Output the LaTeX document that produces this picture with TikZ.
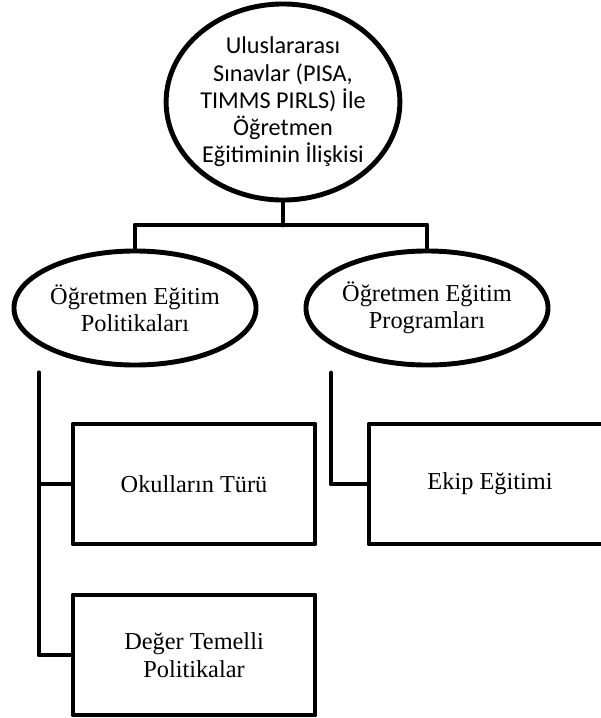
\documentclass[tikz,border=0pt]{standalone}
\usepackage{fontspec}
\setmainfont{Liberation Serif}
\newfontfamily\calfont{Carlito}
\usetikzlibrary{shapes.geometric}

\begin{document}
\begin{tikzpicture}[
  x=0.025cm, y=-0.025cm,
  line cap=round,
  line join=round,
  link/.style={line width=3.5pt},
  oval/.style={ellipse, draw, line width=3.5pt, inner sep=0pt, align=center,
    font=\fontsize{17.3}{19.5}\selectfont},
  topic/.style={oval, font=\calfont\fontsize{17.2}{19.4}\selectfont},
  leaf/.style={rectangle, draw, line width=3.5pt, inner sep=0pt, align=center,
    minimum width=6.05cm, minimum height=3.0cm,
    font=\fontsize{17.3}{19.5}\selectfont}
]

% --- Page frame ---
\useasboundingbox (0,0) rectangle (600,718);

% --- Main topic ---
\node[topic, minimum width=5.8cm, minimum height=4.9cm] (main) at (283,102)
  {Uluslararası\\Sınavlar (PISA,\\TIMMS PIRLS) İle\\Öğretmen\\Eğitiminin İlişkisi};

% --- Two branches ---
\node[oval, minimum width=6.05cm, minimum height=2.85cm] (pol) at (135,308)
  {Öğretmen Eğitim\\Politikaları};
\node[oval, minimum width=6.05cm, minimum height=2.85cm] (prog) at (427,308)
  {Öğretmen Eğitim\\Programları};

% --- Leaves ---
\node[leaf] (tur) at (194,484) {Okulların Türü};
\node[leaf] (deger) at (194,655) {Değer Temelli\\Politikalar};
\node[leaf] (ekip) at (490,484) {Ekip Eğitimi};

% --- Free ends of the side rails ---
\coordinate (split) at (283,225);
\coordinate (railL) at (39,373);
\coordinate (railR) at (331,373);

% Tree lines
\draw[link] (main.south) -- (split);
\draw[link] (pol.north) |- (split) -| (prog.north);

% Side rails
\draw[link] (railL) |- (tur.west);
\draw[link] (railL) |- (deger.west);
\draw[link] (railR) |- (ekip.west);
\end{tikzpicture}
\end{document}
